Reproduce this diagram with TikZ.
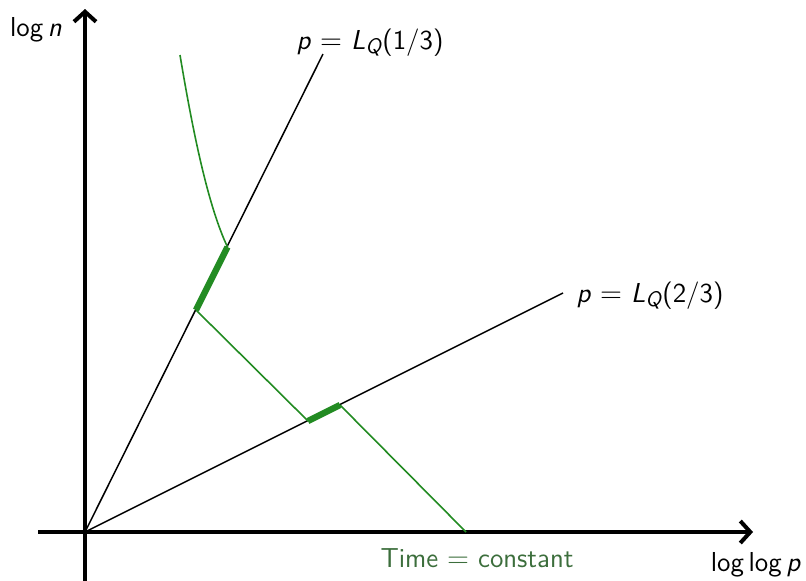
\documentclass[tikz,border=0pt]{standalone}
\usetikzlibrary{arrows.meta}
\definecolor{lgreen}{RGB}{34,139,34}
\definecolor{tgreen}{RGB}{60,110,60}
\newcommand{\subQ}{\raisebox{-0.3ex}{\fontsize{10.5}{12}\selectfont\textit{Q}}}
\begin{document}
\begin{tikzpicture}[x=0.5pt,y=-0.5pt,
  axis/.style={line width=2pt,-{Straight Barb[length=5pt,width=11pt,line width=2pt]}},
  ray/.style={line width=0.75pt,black},
  gline/.style={line width=0.8pt,lgreen},
  gthick/.style={line width=3.2pt,lgreen},
  lbl/.style={font=\fontsize{13.7}{16}\selectfont\sffamily,inner sep=1pt}]
\useasboundingbox (0,0) rectangle (806,580);
\coordinate (O) at (85,532);
\coordinate (XL) at (38,532);
\coordinate (XR) at (753,532);
\coordinate (YB) at (85,582);
\coordinate (YT) at (85,9);
\coordinate (A) at (323,54);
\coordinate (B) at (563,293);
\coordinate (P1) at (196,310);
\coordinate (Q1) at (227.5,247);
\coordinate (P2) at (308,421);
\coordinate (Q2) at (340,405);
\coordinate (T) at (466,532);
\coordinate (C) at (180,55);
\draw[axis] (XL) -- (XR);
\draw[axis] (YB) -- (YT);
\draw[ray] (O) -- (A);
\draw[ray] (O) -- (B);
\draw[gline] (C) .. controls (195,145) and (210,210) .. (Q1);
\draw[gline] (P1) -- (P2);
\draw[gline] (Q2) -- (T);
\draw[gthick] (P1) -- (Q1);
\draw[gthick] (P2) -- (Q2);
\node[lbl] (ln) at (36,30) {log\,\textit{n}};
\node[lbl] (llp) at (756,565) {log\,log\,\textit{p}};
\node[lbl,text=tgreen] (tc) at (477,558) {Time $=$ constant};
\node[lbl] (l1) at (370,43) {\textit{p} $=$ \textit{L}\subQ(1/3)};
\node[lbl] (l2) at (650,296) {\textit{p} $=$ \textit{L}\subQ(2/3)};
\end{tikzpicture}
\end{document}
